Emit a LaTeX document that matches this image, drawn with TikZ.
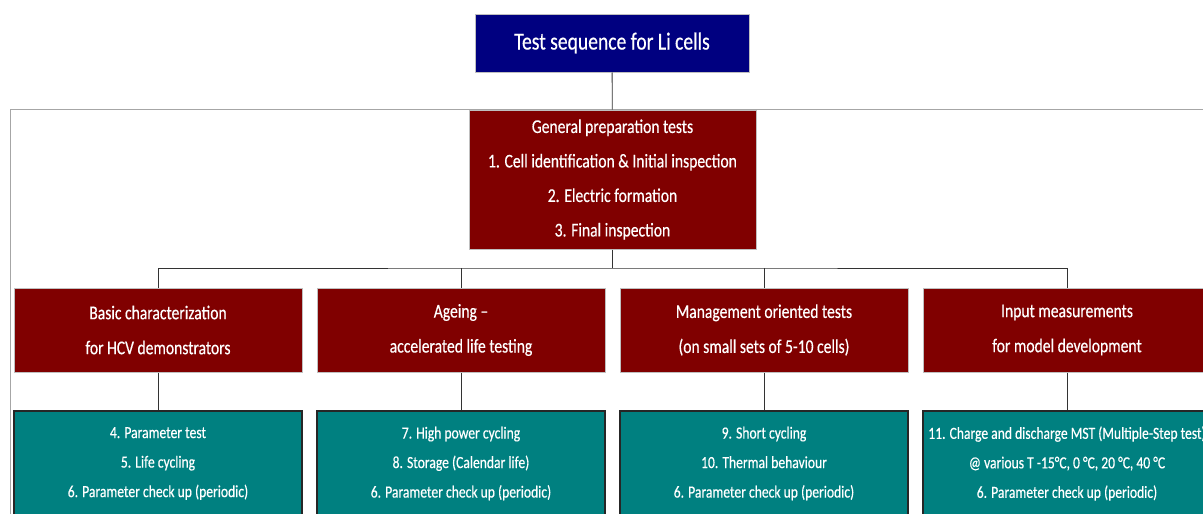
\documentclass[tikz,border=0pt]{standalone}
\usepackage{fontspec}
\setmainfont{Carlito}[FakeStretch=0.8, FakeBold=0.4]
\usepackage{xcolor}
\usepackage{tikz}
\usetikzlibrary{positioning}

\begin{document}
\begin{tikzpicture}[x=1pt, y=-1pt, every node/.style={text=white, align=center, inner sep=0pt}, thick]
    % Define colors
    \definecolor{titlecol}{RGB}{0,0,128}
    \definecolor{groupcol}{RGB}{128,0,0}
    \definecolor{testcol}{RGB}{0,128,128}
    \colorlet{edgecol}{black!25}

    \tikzset{
        titlebox/.style={fill=titlecol, draw=edgecol, line width=1pt, minimum width=274pt, minimum height=58pt, font=\fontsize{24.5}{28}\selectfont},
        groupbox/.style={fill=groupcol, draw=edgecol, line width=1pt, minimum width=288pt, minimum height=84pt, font=\fontsize{19.5}{35}\selectfont},
        testbox/.style={fill=testcol, draw=black!85, line width=1.2pt, minimum width=288pt, minimum height=105pt, font=\fontsize{17}{29.5}\selectfont},
        link/.style={draw=black!80, line width=0.8pt}
    }

    \useasboundingbox (0,0) rectangle (1203,514);
    \clip (0,0) rectangle (1203,514);

    % Outer frame
    \draw[black!35, line width=1pt] (10,109) rectangle (1230,540);

    % Top of the tree
    \node[titlebox] (title) at (612,43) {Test sequence for Li cells};
    \node[groupbox, minimum width=287pt, minimum height=139pt, font=\fontsize{19.5}{34.5}\selectfont]
        (prep) at (612.5,179.5) {General preparation tests\\1. Cell identification \& Initial inspection\\2. Electric formation\\3. Final inspection};

    % Test groups
    \node[groupbox] (basic) at (158,330) {Basic characterization\\for HCV demonstrators};
    \node[groupbox] (ageing) at (461,330) {Ageing --\\accelerated life testing};
    \node[groupbox] (mgmt) at (764,330) {Management oriented tests\\(on small sets of 5-10 cells)};
    \node[groupbox] (input) at (1067,330) {Input measurements\\for model development};

    % Tests per group
    \node[testbox] (basictests) at (158,463.5) {4. Parameter test\\5. Life cycling\\6. Parameter check up (periodic)};
    \node[testbox] (ageingtests) at (461,463.5) {7. High power cycling\\8. Storage (Calendar life)\\6. Parameter check up (periodic)};
    \node[testbox] (mgmttests) at (764,463.5) {9. Short cycling\\10. Thermal behaviour\\6. Parameter check up (periodic)};
    \node[testbox] (inputtests) at (1067,463.5) {11. Charge and discharge MST (Multiple-Step test)\\@ various T -15°C, 0 °C, 20 °C, 40 °C\\6. Parameter check up (periodic)};

    % Connectors
    \coordinate (bus) at (612.5,268);
    \draw[link] (title) -- (prep);
    \draw[link] (prep) -- (bus);
    \draw[link] (basic.north) |- (bus) -| (input.north);
    \draw[link] (ageing.north) -- (ageing.north |- bus);
    \draw[link] (mgmt.north) -- (mgmt.north |- bus);
    \foreach \g in {basic, ageing, mgmt, input}
        \draw[link] (\g) -- (\g tests);
\end{tikzpicture}
\end{document}
